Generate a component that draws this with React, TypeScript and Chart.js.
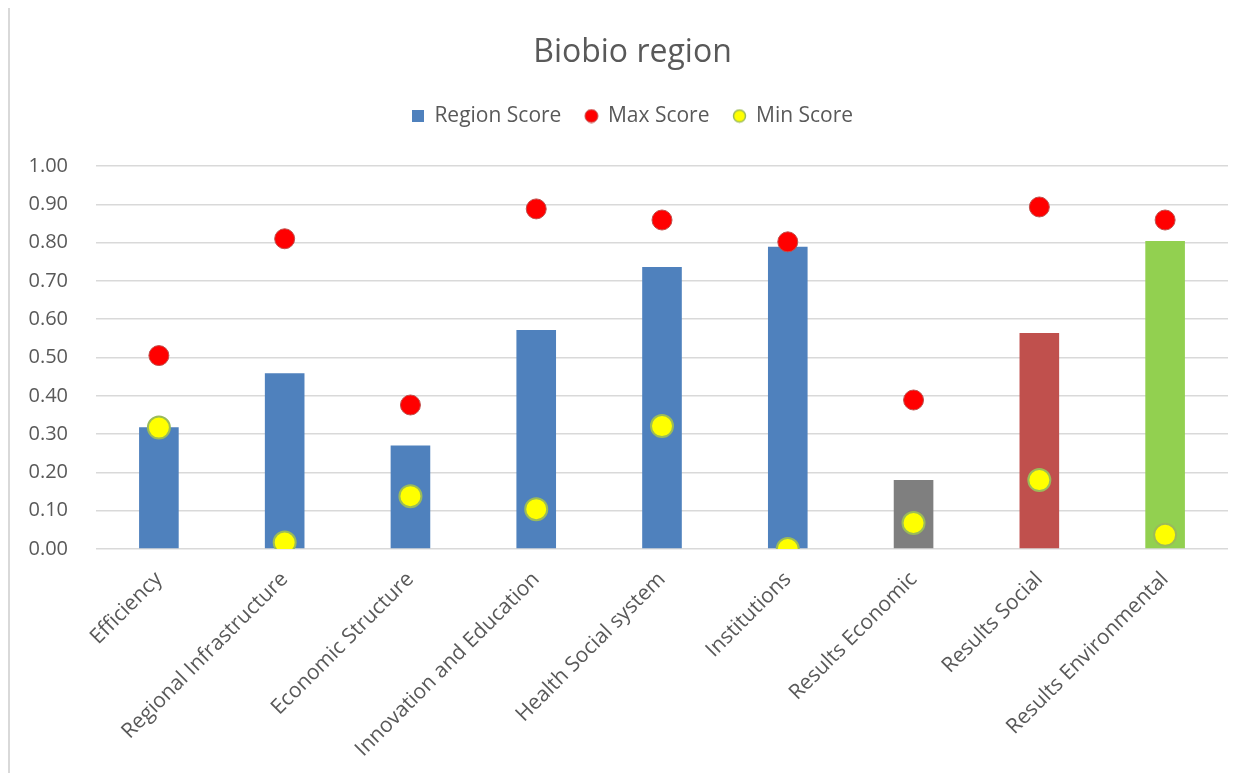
import React, { useEffect, useRef } from 'react';
import { Chart, registerables, layouts } from 'chart.js';

Chart.register(...registerables);

const categories = [
  'Efficiency',
  'Regional Infrastructure',
  'Economic Structure',
  'Innovation and Education',
  'Health Social system',
  'Institutions',
  'Results Economic',
  'Results Social',
  'Results Environmental',
];
const regionScore = [0.318, 0.459, 0.27, 0.572, 0.736, 0.789, 0.18, 0.564, 0.804];
const maxScore = [0.505, 0.81, 0.376, 0.888, 0.859, 0.802, 0.389, 0.893, 0.859];
const minScore = [0.317, 0.017, 0.138, 0.104, 0.321, 0.0, 0.068, 0.18, 0.037];
const barColors = ['#4F81BD', '#4F81BD', '#4F81BD', '#4F81BD', '#4F81BD', '#4F81BD', '#7F7F7F', '#C0504D', '#92D050'];
const seriesNames = ['Region Score', 'Max Score', 'Min Score'];
const titleText = 'Biobio region';

const TEXT = '#595959';
const GRID = '#d9d9d9';
const FONT = "'Open Sans', sans-serif";

function marker(kind: 'rect' | 'circle', fill: string, stroke: string, size: number, lw: number) {
  const c = document.createElement('canvas');
  c.width = size;
  c.height = size;
  const ctx = c.getContext('2d')!;
  ctx.fillStyle = fill;
  if (kind === 'rect') {
    ctx.fillRect(0, 0, size, size);
  } else {
    ctx.beginPath();
    ctx.arc(size / 2, size / 2, size / 2 - lw, 0, Math.PI * 2);
    ctx.fill();
    ctx.lineWidth = lw;
    ctx.strokeStyle = stroke;
    ctx.stroke();
  }
  return c;
}

function spacerBox(position: 'top' | 'right', size: number, weight: number, fullSize: boolean) {
  const horizontal = position === 'top';
  return {
    position,
    weight,
    fullSize,
    options: {},
    left: 0,
    top: 0,
    right: 0,
    bottom: 0,
    width: 0,
    height: 0,
    isHorizontal() {
      return horizontal;
    },
    update(maxWidth: number, maxHeight: number) {
      if (horizontal) {
        this.width = maxWidth;
        this.height = size;
      } else {
        this.width = size;
        this.height = maxHeight;
      }
    },
    draw() {},
  } as any;
}

// empty layout boxes: a gap under the legend and a margin right of the plot
const spacerPlugin = {
  id: 'spacers',
  beforeInit(chart: any) {
    layouts.addBox(chart, spacerBox('top', 29.5, 900, true));
    layouts.addBox(chart, spacerBox('right', 27, 0, false));
  },
};

export default function App() {
  const ref = useRef<HTMLCanvasElement>(null);

  useEffect(() => {
    document.body.style.overflow = 'hidden';
    const canvas = ref.current!;
    const markers = [
      marker('rect', '#4F81BD', '#4F81BD', 12, 0),
      marker('circle', '#FF0000', '#C0504D', 15, 1),
      marker('circle', '#FFFF00', '#9BBB59', 15, 1.5),
    ];
    const chart = new Chart(canvas, {
      type: 'bar',
      data: {
        labels: categories,
        datasets: [
          {
            type: 'bar',
            label: seriesNames[0],
            data: regionScore,
            backgroundColor: barColors,
            borderWidth: 0,
            categoryPercentage: 1,
            barPercentage: 0.315,
            order: 3,
          },
          {
            type: 'line',
            label: seriesNames[1],
            data: maxScore,
            showLine: false,
            pointRadius: 10,
            pointHoverRadius: 10,
            pointBackgroundColor: '#FF0000',
            pointBorderColor: '#C0504D',
            pointBorderWidth: 1,
            order: 2,
          },
          {
            type: 'line',
            label: seriesNames[2],
            data: minScore,
            showLine: false,
            pointRadius: 11,
            pointHoverRadius: 11,
            pointBackgroundColor: '#FFFF00',
            pointBorderColor: '#9BBB59',
            pointBorderWidth: 2,
            order: 1,
          },
        ],
      } as any,
      plugins: [spacerPlugin],
      options: {
        responsive: false,
        animation: false,
        events: [],
        layout: { padding: 0 },
        font: { family: FONT },
        plugins: {
          tooltip: { enabled: false },
          title: {
            display: true,
            text: titleText,
            color: TEXT,
            font: { family: FONT, size: 32, weight: 'normal', lineHeight: 1.2 },
            padding: { top: 25.5, bottom: 9.6 },
          },
          legend: {
            display: true,
            position: 'top',
            labels: {
              usePointStyle: true,
              boxWidth: 12,
              boxHeight: 12,
              padding: 24,
              color: TEXT,
              font: { family: FONT, size: 21 },
              generateLabels: () =>
                seriesNames.map((name, i) => ({
                  text: name,
                  fillStyle: barColors[0],
                  strokeStyle: barColors[0],
                  lineWidth: 0,
                  pointStyle: markers[i] as any,
                  hidden: false,
                  datasetIndex: i,
                  fontColor: TEXT,
                })),
            },
          },
        },
        scales: {
          x: {
            grid: { display: false },
            border: { display: false },
            ticks: {
              color: TEXT,
              font: { family: FONT, size: 21 },
              minRotation: 45,
              maxRotation: 45,
              autoSkip: false,
              padding: 10,
            },
            afterFit: (s: any) => {
              s.height = 224;
            },
          },
          y: {
            min: 0,
            max: 1,
            grid: { color: GRID, lineWidth: 1.5, drawTicks: false },
            border: { display: false },
            ticks: {
              stepSize: 0.1,
              color: TEXT,
              font: { family: FONT, size: 20 },
              padding: 28,
              callback: (v: any) => Number(v).toFixed(2),
            },
            afterFit: (s: any) => {
              s.width = 86;
            },
          },
        },
      } as any,
    });
    return () => chart.destroy();
  }, []);

  return (
    <div
      style={{
        width: 1247,
        height: 767,
        marginTop: -2,
        boxSizing: 'border-box',
        borderLeft: '2px solid #d9d9d9',
        borderTop: '2px solid #d9d9d9',
        background: '#fff',
      }}
    >
      <canvas ref={ref} width={1245} height={765} style={{ display: 'block', width: 1245, height: 765 }} />
    </div>
  );
}
